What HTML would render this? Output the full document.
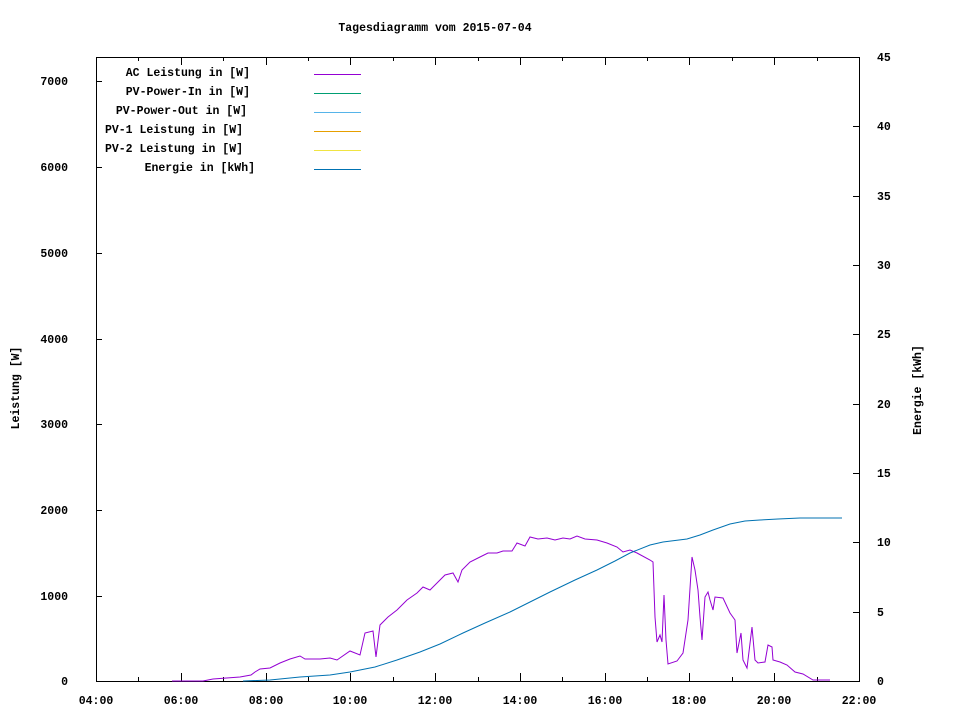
<!DOCTYPE html>
<html><head><meta charset="utf-8"><style>body{margin:0;background:#fff}svg{display:block}text{font-family:"Liberation Mono",monospace;font-size:11.5px;font-weight:bold;fill:#000}</style></head><body>
<svg width="960" height="720" viewBox="0 0 960 720" xmlns="http://www.w3.org/2000/svg">
<rect width="960" height="720" fill="#fff"/>
<text x="435" y="31" text-anchor="middle">Tagesdiagramm vom 2015-07-04</text>
<g stroke="#000" stroke-width="1" fill="none">
<rect x="96.5" y="57.5" width="763" height="624"/>
<path d="M96,596.5h6M96,510.5h6M96,424.5h6M96,339.5h6M96,253.5h6M96,167.5h6M96,81.5h6
M859,612.5h-6M859,542.5h-6M859,473.5h-6M859,404.5h-6M859,334.5h-6M859,265.5h-6M859,196.5h-6M859,126.5h-6
M181.5,681v-8M266.5,681v-8M350.5,681v-8M435.5,681v-8M520.5,681v-8M605.5,681v-8M689.5,681v-8M774.5,681v-8
M138.5,681v-4M223.5,681v-4M308.5,681v-4M393.5,681v-4M478.5,681v-4M562.5,681v-4M647.5,681v-4M732.5,681v-4M817.5,681v-4
M181.5,57v8M266.5,57v8M350.5,57v8M435.5,57v8M520.5,57v8M605.5,57v8M689.5,57v8M774.5,57v8
M138.5,57v4M223.5,57v4M308.5,57v4M393.5,57v4M478.5,57v4M562.5,57v4M647.5,57v4M732.5,57v4M817.5,57v4"/>
</g>
<g text-anchor="end">
<text x="68" y="685">0</text><text x="68" y="600">1000</text><text x="68" y="514">2000</text><text x="68" y="428">3000</text><text x="68" y="343">4000</text><text x="68" y="257">5000</text><text x="68" y="171">6000</text><text x="68" y="85">7000</text>
</g>
<g text-anchor="start">
<text x="877" y="685">0</text><text x="877" y="616">5</text><text x="877" y="546">10</text><text x="877" y="477">15</text><text x="877" y="408">20</text><text x="877" y="338">25</text><text x="877" y="269">30</text><text x="877" y="200">35</text><text x="877" y="130">40</text><text x="877" y="61">45</text>
</g>
<g text-anchor="middle">
<text x="96" y="704">04:00</text><text x="181" y="704">06:00</text><text x="266" y="704">08:00</text><text x="350" y="704">10:00</text><text x="435" y="704">12:00</text><text x="520" y="704">14:00</text><text x="605" y="704">16:00</text><text x="689" y="704">18:00</text><text x="774" y="704">20:00</text><text x="859" y="704">22:00</text>
</g>
<text transform="translate(19,388) rotate(-90)" text-anchor="middle">Leistung [W]</text>
<text transform="translate(921,390) rotate(-90)" text-anchor="middle">Energie [kWh]</text>
<g text-anchor="end">
<text x="250" y="76">AC Leistung in [W]</text>
<text x="250" y="95">PV-Power-In in [W]</text>
<text x="247" y="114">PV-Power-Out in [W]</text>
<text x="243" y="133">PV-1 Leistung in [W]</text>
<text x="243" y="152">PV-2 Leistung in [W]</text>
<text x="255" y="171">Energie in [kWh]</text>
</g>
<g stroke-width="1">
<path d="M314,74.5h47" stroke="#9400d3"/>
<path d="M314,93.5h47" stroke="#009e73"/>
<path d="M314,112.5h47" stroke="#56b4e9"/>
<path d="M314,131.5h47" stroke="#e69f00"/>
<path d="M314,150.5h47" stroke="#f0e442"/>
<path d="M314,169.5h47" stroke="#0072b2"/>
</g>
<polyline fill="none" stroke="#9400d3" stroke-width="1" points="172,681 203,681 213,679 240,677 251,675 255,672 260,669 270,668 280,663 290,659 300,656 305,659 320,659 330,658 337,660 350,651 360,655 365,633 373,631 376,657 380,625 388,617 397,610 407,600 417,593 423,587 430,590 437,583 445,575 453,573 458,582 462,570 470,562 480,557 488,553 497,553 503,551 512,551 517,543 525,546 530,537 538,539 547,538 555,540 563,538 570,539 577,536 585,539 597,540 607,543 617,547 623,552 630,550 637,553 650,560 653,562 655,617 657,642 660,635 662,642 664,595 666,640 668,664 677,661 683,653 688,620 692,557 695,570 698,590 700,617 702,640 705,597 708,592 710,600 713,610 715,597 723,598 730,613 735,620 737,653 741,633 743,660 747,668 752,627 755,660 758,663 765,662 768,645 772,647 773,660 780,662 787,665 795,672 803,674 813,680 830,680"/>
<polyline fill="none" stroke="#0072b2" stroke-width="1" points="243,681 270,680 300,677 330,675 350,672 375,667 397,660 420,652 440,644 463,633 485,623 510,612 530,602 550,592 575,580 597,570 615,561 630,553 650,545 663,542 687,539 700,535 713,530 730,524 745,521 760,520 778,519 800,518 842,518"/>
</svg>
</body></html>
